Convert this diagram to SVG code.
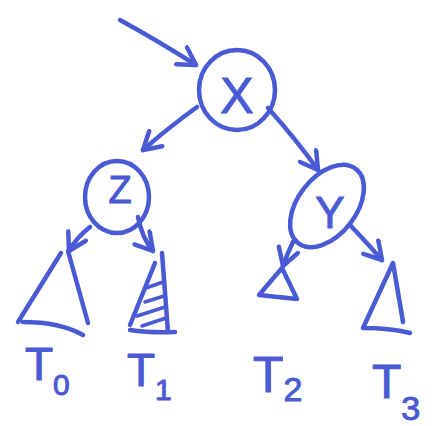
<svg xmlns="http://www.w3.org/2000/svg" width="445" height="426" viewBox="0 0 445 426">
<style>
.ink{fill:none;stroke:#4a5ad4;stroke-width:4.5;stroke-linecap:round;stroke-linejoin:round}
.thin{fill:none;stroke:#4a5ad4;stroke-width:3.5;stroke-linecap:round}
.lbl{fill:#4a5ad4;stroke:#4a5ad4;stroke-width:1;font-family:"Liberation Sans",Arial,sans-serif}
</style>
<defs>
<marker id="ah" viewBox="0 0 24 24" refX="20" refY="12" markerWidth="24" markerHeight="24" markerUnits="userSpaceOnUse" orient="auto">
<path d="M3,2 L20,12 L3,22" fill="none" stroke="#4a5ad4" stroke-width="4.5" stroke-linecap="round" stroke-linejoin="round"/>
</marker>
</defs>
<rect width="445" height="426" fill="#ffffff"/>
<g id="connectors">
<path class="ink" d="M120,20 Q160,42 196,65" marker-end="url(#ah)"/>
<path class="ink" d="M197,107 Q168,128 143,150" marker-end="url(#ah)"/>
<path class="ink" d="M268,108 Q295,138 318,170" marker-end="url(#ah)"/>
<path class="ink" d="M90,227 Q76,238 69,251" marker-end="url(#ah)"/>
<path class="ink" d="M138,217 Q142,238 153,251" marker-end="url(#ah)"/>
<path class="ink" d="M293,242 Q287,254 283,266" marker-end="url(#ah)"/>
<path class="ink" d="M350,225 Q368,244 382,260" marker-end="url(#ah)"/>
</g>
<g id="node-x">
<ellipse class="ink" cx="237" cy="90" rx="38" ry="40"/>
<text class="lbl" x="237" y="113" font-size="50" text-anchor="middle">X</text>
</g>
<g id="node-z">
<ellipse class="ink" cx="117" cy="197" rx="32" ry="36"/>
<text class="lbl" x="120" y="203" font-size="38" text-anchor="middle">Z</text>
</g>
<g id="node-y">
<ellipse class="ink" cx="327" cy="206" rx="29" ry="47" transform="rotate(38 327 206)"/>
<text class="lbl" x="330" y="228" font-size="44" text-anchor="middle">Y</text>
</g>
<g id="T0">
<path class="ink" d="M61,253 L18,322 M68,251 L88,323 M23,322 Q60,322 83,335"/>
<text class="lbl" x="25" y="380" font-size="46">T<tspan font-size="30" dy="15">0</tspan></text>
</g>
<g id="T1">
<path class="ink" d="M162,253 L168,332 M155,263 L130,325 M130,330 Q150,333 175,332"/>
<path class="thin" d="M146,288 L163,282 M145,302 L164,296 M137,316 L165,307 M142,326 L166,318"/>
<text class="lbl" x="127" y="386" font-size="46">T<tspan font-size="30" dy="14">1</tspan></text>
</g>
<g id="T2">
<path class="ink" d="M282,268 L259,295 L297,299 Z"/>
<text class="lbl" x="253" y="392" font-size="50">T<tspan font-size="34" dy="9">2</tspan></text>
</g>
<g id="T3">
<path class="ink" d="M393,263 L363,328 M393,263 L403,322 M363,328 Q390,328 410,333"/>
<text class="lbl" x="372" y="398" font-size="48">T<tspan font-size="34" dy="22">3</tspan></text>
</g>
</svg>
